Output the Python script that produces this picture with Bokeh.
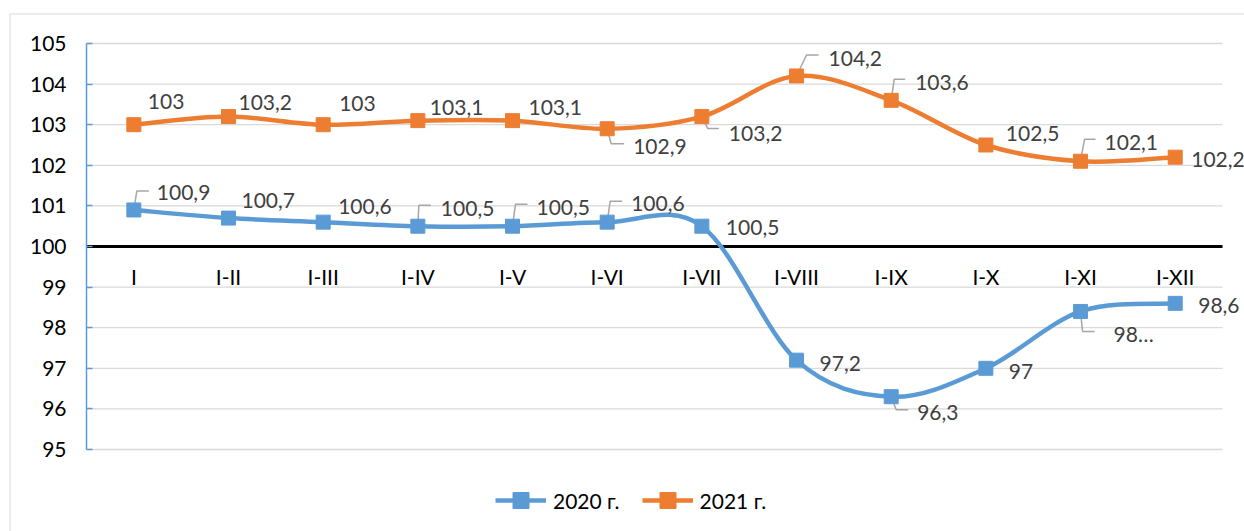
from bokeh.plotting import figure
from bokeh.models import (LinearAxis, FixedTicker, Range1d, Legend, LegendItem,
                          ColumnDataSource, Span)
from bokeh.core.properties import value
from bokeh.embed import file_html
from bokeh.resources import INLINE

# ---------------- data ----------------
categories = ["I", "I-II", "I-III", "I-IV", "I-V", "I-VI", "I-VII",
              "I-VIII", "I-IX", "I-X", "I-XI", "I-XII"]
values_2020 = [100.9, 100.7, 100.6, 100.5, 100.5, 100.6, 100.5,
               97.2, 96.3, 97.0, 98.4, 98.6]
values_2021 = [103.0, 103.2, 103.0, 103.1, 103.1, 102.9, 103.2,
               104.2, 103.6, 102.5, 102.1, 102.2]
series_names = ["2020 г.", "2021 г."]
y_ticks = [95, 96, 97, 98, 99, 100, 101, 102, 103, 104, 105]
baseline = 100


def fmt(v):
    s = ("%.1f" % v).rstrip("0").rstrip(".")
    return s.replace(".", ",")


labels_2020 = [fmt(v) for v in values_2020]
labels_2020[10] = "98…"   # truncated in the original
labels_2021 = [fmt(v) for v in values_2021]

# ---------------- layout / style ----------------
FONT = "Lato"
BLUE = "#5B9BD5"
ORANGE = "#ED7D31"
GRID = "#D9D9D9"
LABEL_GREY = "#404040"

W, H = 1244, 531
LEFT, TOP = 9, 13
FRAME_W, FRAME_H = W - LEFT, H - TOP
PX_X = 94.67   # pixels per category
PX_Y = 40.6    # pixels per unit
x_start = -(86 - LEFT) / PX_X
x_end = x_start + FRAME_W / PX_X
y_end = 105 + (43 - TOP) / PX_Y
y_start = y_end - FRAME_H / PX_Y

# label offsets (px, screen down positive) relative to marker
off_2021 = [(14, -23), (10, -14), (16, -21), (12, -13), (16, -13), (26, 18),
            (27, 17), (32, -17), (24, -18), (20, -12), (24, -19), (16, 2)]
off_2020 = [(23, -17), (13, -18), (15, -16), (23, -18), (24, -19), (24, -19),
            (24, 1), (23, 3), (26, 16), (23, 3), (33, 22), (23, 2)]
# leader lines: index -> (corner, end) px offsets
lead_2021 = {5: ((4, 15), (17, 15)), 6: ((6, 12), (17, 12)),
             7: ((10, -21), (22, -21)), 8: ((3, -21), (14, -21)),
             10: ((4, -22), (15, -22))}
lead_2020 = {0: ((3, -19), (15, -19)), 3: ((1, -21), (13, -21)),
             4: ((3, -22), (15, -22)), 5: ((3, -21), (15, -21)),
             8: ((5, 13), (17, 13)), 10: ((2, 20), (14, 20))}

p = figure(width=W, height=H, output_backend="svg", toolbar_location=None,
           x_axis_type=None, y_axis_type=None,
           x_range=Range1d(x_start, x_end), y_range=Range1d(y_start, y_end),
           min_border_left=LEFT, min_border_right=0, min_border_top=TOP,
           min_border_bottom=0)
p.xgrid.visible = False
p.ygrid.visible = False
p.outline_line_color = None
p.background_fill_color = "white"
p.border_fill_color = "white"

# chart-area border (left and top edges visible in the original)
p.add_layout(Span(location=x_start, dimension="height", line_color=GRID,
                  line_width=2))
p.add_layout(Span(location=y_end, dimension="width", line_color=GRID,
                  line_width=2))

n = len(categories)
xc = [i + 0.5 for i in range(n)]

# gridlines
p.segment(x0=[0] * len(y_ticks), x1=[n] * len(y_ticks), y0=y_ticks, y1=y_ticks,
          line_color=GRID, line_width=1.3, level="underlay")

# y axis at x = 0
yaxis = LinearAxis(fixed_location=0, bounds=(y_ticks[0], y_ticks[-1]),
                   ticker=FixedTicker(ticks=y_ticks))
yaxis.axis_line_color = BLUE
yaxis.axis_line_width = 1.5
yaxis.major_tick_line_color = BLUE
yaxis.major_tick_line_width = 1.5
yaxis.major_tick_in = 6
yaxis.major_tick_out = 0
yaxis.minor_tick_line_color = None
yaxis.major_label_standoff = 20
yaxis.major_label_text_font = FONT
yaxis.major_label_text_font_size = "21px"
yaxis.major_label_text_color = "black"
p.add_layout(yaxis, "left")

# x axis crossing at 100
xaxis = LinearAxis(fixed_location=baseline, bounds=(0, n),
                   ticker=FixedTicker(ticks=xc))
xaxis.major_label_overrides = {x: c for x, c in zip(xc, categories)}
xaxis.axis_line_color = "black"
xaxis.axis_line_width = 3
xaxis.major_tick_line_color = None
xaxis.minor_tick_line_color = None
xaxis.major_label_standoff = 11
xaxis.major_label_text_font = FONT
xaxis.major_label_text_font_size = "21px"
xaxis.major_label_text_color = "black"
xaxis.level = "underlay"
p.add_layout(xaxis, "below")


def bezier_source(vals):
    pts = list(zip(xc, vals))
    d = dict(x0=[], y0=[], x1=[], y1=[], cx0=[], cy0=[], cx1=[], cy1=[])
    for i in range(n - 1):
        p0 = pts[max(i - 1, 0)]
        p1 = pts[i]
        p2 = pts[i + 1]
        p3 = pts[min(i + 2, n - 1)]
        d["x0"].append(p1[0]); d["y0"].append(p1[1])
        d["x1"].append(p2[0]); d["y1"].append(p2[1])
        d["cx0"].append(p1[0] + (p2[0] - p0[0]) / 6)
        d["cy0"].append(p1[1] + (p2[1] - p0[1]) / 6)
        d["cx1"].append(p2[0] - (p3[0] - p1[0]) / 6)
        d["cy1"].append(p2[1] - (p3[1] - p1[1]) / 6)
    return ColumnDataSource(d)


legend_items = []
for vals, labels, offs, leads, color, name in [
        (values_2020, labels_2020, off_2020, lead_2020, BLUE, series_names[0]),
        (values_2021, labels_2021, off_2021, lead_2021, ORANGE, series_names[1])]:
    # leader lines
    lxs, lys = [], []
    for i, (c, e) in leads.items():
        lxs.append([xc[i], xc[i] + c[0] / PX_X, xc[i] + e[0] / PX_X])
        lys.append([vals[i], vals[i] - c[1] / PX_Y, vals[i] - e[1] / PX_Y])
    p.multi_line(xs=lxs, ys=lys, line_color="#A6A6A6", line_width=1.5)

    bz = p.bezier(x0="x0", y0="y0", x1="x1", y1="y1", cx0="cx0", cy0="cy0",
                  cx1="cx1", cy1="cy1", source=bezier_source(vals),
                  line_color=color, line_width=4.5)
    sc = p.scatter(x=xc, y=vals, marker="square", size=14,
                   fill_color=color, line_color=color)
    src = ColumnDataSource(dict(x=xc, y=vals, t=labels,
                                dx=[o[0] for o in offs],
                                dy=[o[1] for o in offs]))
    p.text(x="x", y="y", text="t", x_offset="dx", y_offset="dy", source=src,
           text_font=value(FONT), text_font_size="21px",
           text_color=LABEL_GREY, text_align="left", text_baseline="middle")
    legend_items.append(LegendItem(label=name, renderers=[bz, sc]))

legend = Legend(items=legend_items, orientation="horizontal",
                location=(486, 11), glyph_width=51, glyph_height=40,
                label_standoff=7, spacing=22, padding=0, margin=0,
                border_line_color=None, background_fill_alpha=0,
                label_text_font=FONT, label_text_font_size="21px",
                label_text_color="black")
p.add_layout(legend)

open("out.html", "w").write(file_html(p, INLINE))
